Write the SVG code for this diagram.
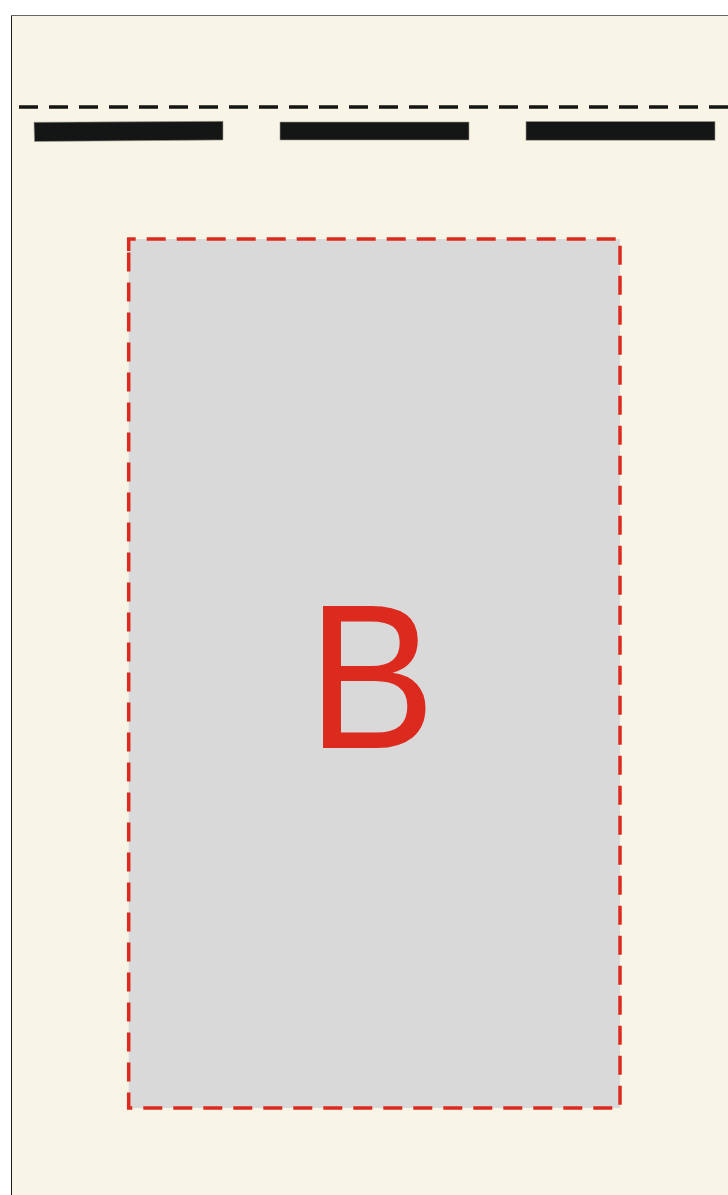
<svg xmlns="http://www.w3.org/2000/svg" width="728" height="1195" viewBox="0 0 728 1195">
<style>
.bar{fill:#141615;stroke:#9a9a90;stroke-width:0.6}
.sep{stroke:#151515;stroke-width:3.5;stroke-dasharray:19 11;fill:none}
.zone{fill:#d9d9d9;stroke:#dd2a1f;stroke-width:3.5;stroke-dasharray:19 11}
.lbl{font-family:"Liberation Sans",Arial,sans-serif;font-size:207px;fill:#dd2a1f}
</style>
<rect width="728" height="1195" fill="#ffffff"/>
<rect x="11.5" y="15.5" width="720" height="1185" fill="#f8f4e6" stroke="#1a1a1a" stroke-width="1"/>
<line x1="11" y1="15.5" x2="728" y2="15.5" stroke="#666" stroke-width="1"/>
<g id="separator">
<line class="sep" x1="19" y1="107" x2="728" y2="107"/>
</g>
<g id="bars">
<polygon class="bar" points="34,122.3 223,121.3 223,140 34.5,141.5"/>
<rect class="bar" x="280" y="122" width="189" height="18"/>
<rect class="bar" x="526" y="121.5" width="189" height="18.7"/>
</g>
<g id="zoneB">
<path class="zone" d="M128.7,251 V239 H620 V1108 H128.7 Z"/>
<text class="lbl" transform="translate(318.3,747.7) scale(0.93,1)" x="-12" y="0">B</text>
</g>
</svg>
